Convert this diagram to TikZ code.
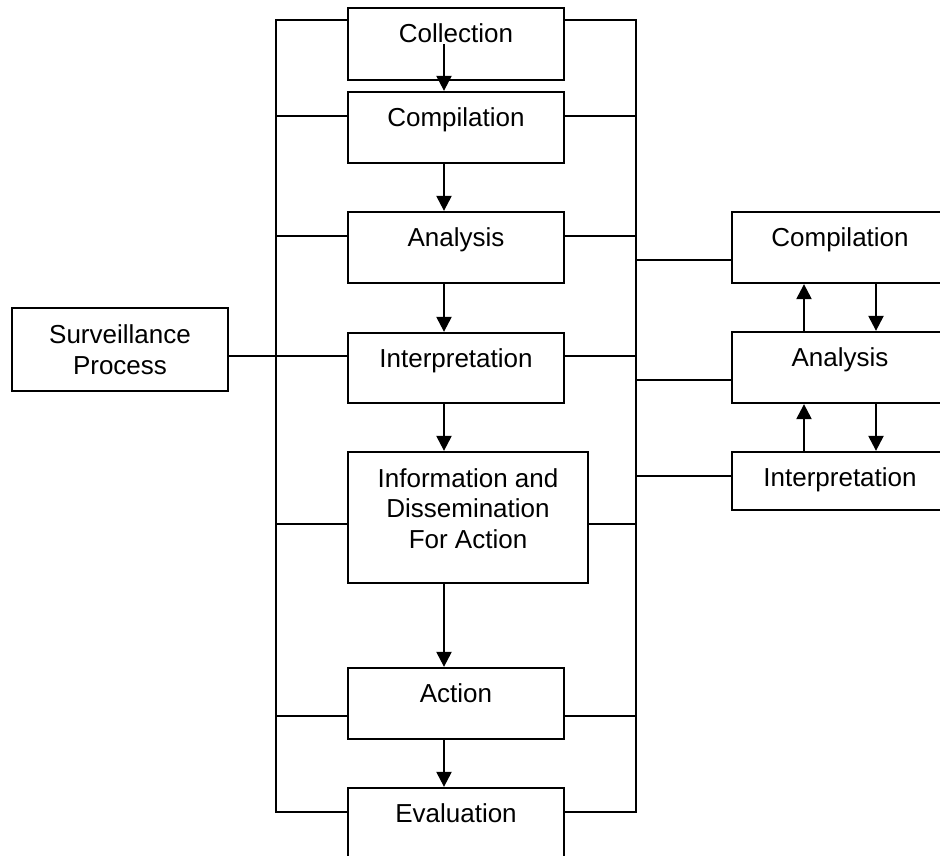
\documentclass[tikz,border=0pt]{standalone}
\usepackage{fontspec}
\setmainfont{Liberation Sans}
\usetikzlibrary{arrows.meta}

\begin{document}
\begin{tikzpicture}[x=1pt,y=-1pt,
  line width=2.3pt,
  stagebox/.style={draw, line width=2.3pt, inner sep=0pt, minimum width=216pt},
  lbl/.style={font=\fontsize{26}{30.5}\selectfont, inner sep=0pt, anchor=base},
  mlbl/.style={font=\fontsize{26}{30.5}\selectfont, inner sep=0pt, align=center},
  arr/.style={-{Triangle[width=15pt,length=15pt]}}
]
\useasboundingbox (0,0) rectangle (940,856);
\clip (0,0) rectangle (940,856);

% main stages
\node[stagebox, minimum height=72pt] (col)    at (456,44)    {};
\node[stagebox, minimum height=71pt] (comp)   at (456,127.5) {};
\node[stagebox, minimum height=71pt] (ana)    at (456,247.5) {};
\node[stagebox, minimum height=70pt] (interp) at (456,368)   {};
\node[stagebox, minimum height=131pt, minimum width=240pt] (info) at (468,517.5) {};
\node[stagebox, minimum height=71pt] (act)    at (456,703.5) {};
\node[stagebox, minimum height=72pt] (eval)   at (456,824)   {};

% surveillance process
\node[stagebox, minimum height=83pt] (surv) at (120,349.5) {};

% right-hand detail
\node[stagebox, minimum height=71pt] (rcomp) at (840,247.5) {};
\node[stagebox, minimum height=71pt] (rana)  at (840,367.5) {};
\node[stagebox, minimum height=58pt] (rint)  at (840,481)   {};

% labels
\node[lbl] (colT)    at ([yshift=-36pt]col.north)    {Collection};
\node[lbl] (compT)   at ([yshift=-36pt]comp.north)   {Compilation};
\node[lbl] (anaT)    at ([yshift=-36pt]ana.north)    {Analysis};
\node[lbl] (interpT) at ([yshift=-36pt]interp.north) {Interpretation};
\node[mlbl] (infoT)  at ([yshift=9pt]info.center)    {Information and\\Dissemination\\For Action};
\node[lbl] (actT)    at ([yshift=-36pt]act.north)    {Action};
\node[lbl] (evalT)   at ([yshift=-36pt]eval.north)   {Evaluation};
\node[mlbl] (survT)  at (surv.center)                {Surveillance\\Process};
\node[lbl] (rcompT)  at ([yshift=-36pt]rcomp.north)  {Compilation};
\node[lbl] (ranaT)   at ([yshift=-36pt]rana.north)   {Analysis};
\node[lbl] (rintT)   at ([yshift=-36pt]rint.north)   {Interpretation};

% bus coordinates
\coordinate (L1) at (276,20);  \coordinate (R1) at (636,20);
\coordinate (L2) at (276,116); \coordinate (R2) at (636,116);
\coordinate (L3) at (276,236); \coordinate (R3) at (636,236);
\coordinate (L4) at (276,356); \coordinate (R4) at (636,356);
\coordinate (L5) at (276,524); \coordinate (R5) at (636,524);
\coordinate (L6) at (276,716); \coordinate (R6) at (636,716);
\coordinate (L7) at (276,812); \coordinate (R7) at (636,812);
\coordinate (Ra) at (636,260);
\coordinate (Rb) at (636,380);
\coordinate (Rc) at (636,476);

% left bus
\draw (col.west |- L1) -- (L1) -- (L7) -- (eval.west |- L7);
\draw (comp.west |- L2) -- (L2);
\draw (ana.west |- L3) -- (L3);
\draw (info.west |- L5) -- (L5);
\draw (act.west |- L6) -- (L6);
\draw (surv.east |- L4) -- (interp.west |- L4);

% right bus
\draw (col.east |- R1) -- (R1) -- (R7) -- (eval.east |- R7);
\draw (comp.east |- R2) -- (R2);
\draw (ana.east |- R3) -- (R3);
\draw (interp.east |- R4) -- (R4);
\draw (info.east |- R5) -- (R5);
\draw (act.east |- R6) -- (R6);
\draw (Ra) -- (rcomp.west |- Ra);
\draw (Rb) -- (rana.west |- Rb);
\draw (Rc) -- (rint.west |- Rc);

% flow of the main stages
\draw[arr] ([xshift=-12pt]col.center) -- ([xshift=-12pt]comp.north);
\draw[arr] ([xshift=-12pt]comp.south) -- ([xshift=-12pt]ana.north);
\draw[arr] ([xshift=-12pt]ana.south) -- ([xshift=-12pt]interp.north);
\draw[arr] ([xshift=-12pt]interp.south) -- ([xshift=-24pt]info.north);
\draw[arr] ([xshift=-24pt]info.south) -- ([xshift=-12pt]act.north);
\draw[arr] ([xshift=-12pt]act.south) -- ([xshift=-12pt]eval.north);

% feedback in the detail column
\draw[arr] ([xshift=-36pt]rana.north) -- ([xshift=-36pt]rcomp.south);
\draw[arr] ([xshift=36pt]rcomp.south) -- ([xshift=36pt]rana.north);
\draw[arr] ([xshift=-36pt]rint.north) -- ([xshift=-36pt]rana.south);
\draw[arr] ([xshift=36pt]rana.south) -- ([xshift=36pt]rint.north);
\end{tikzpicture}
\end{document}
